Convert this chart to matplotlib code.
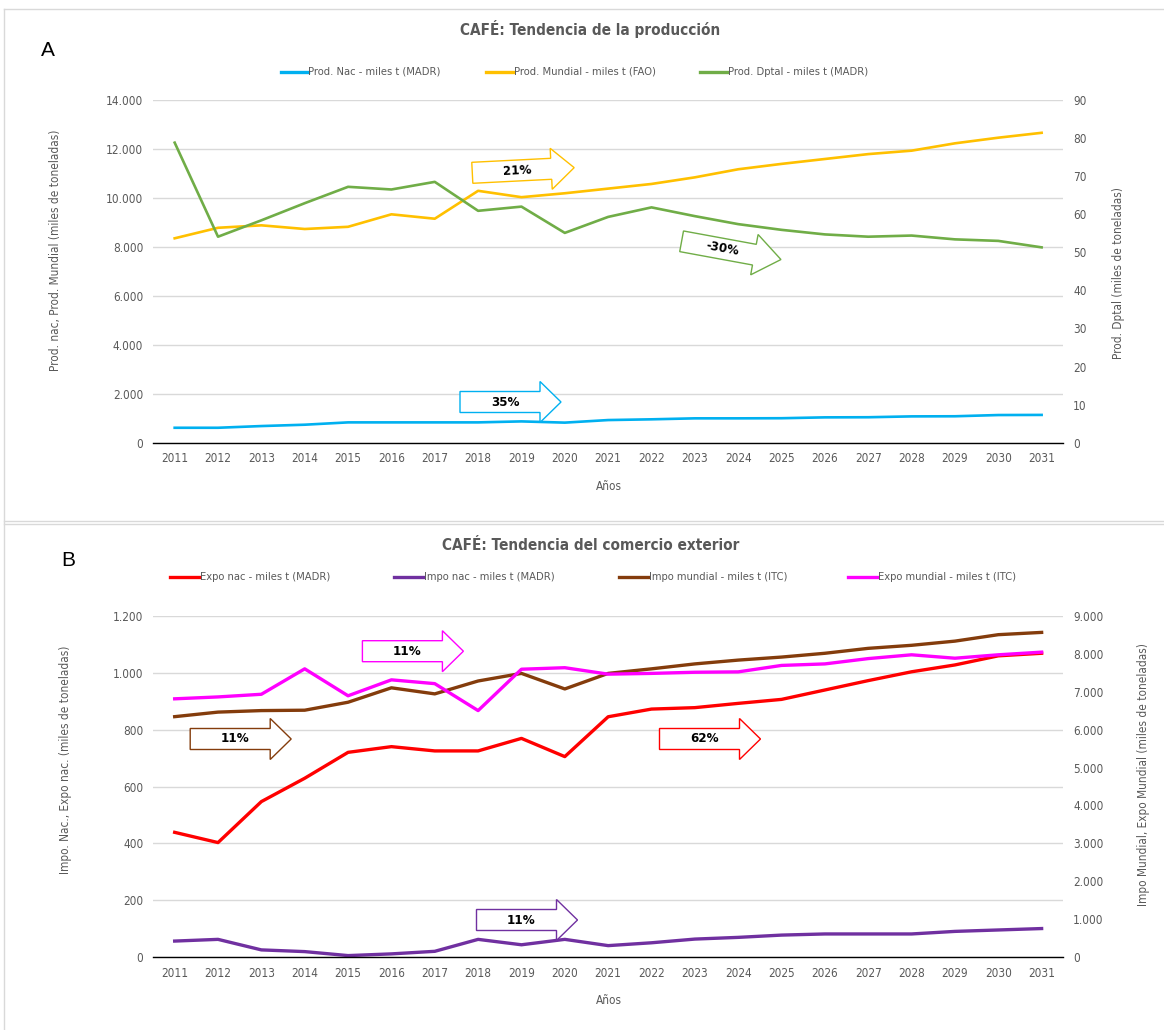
import numpy as np
import matplotlib.pyplot as plt
from matplotlib.lines import Line2D
from matplotlib.patches import Polygon
from matplotlib.ticker import FuncFormatter, MultipleLocator

plt.rcParams['font.family'] = ['DejaVu Sans']
plt.rcParams['font.stretch'] = 'condensed'

W, H = 1164, 1030
GRIS = '#595959'

anios = ['2011', '2012', '2013', '2014', '2015', '2016', '2017', '2018', '2019', '2020', '2021',
         '2022', '2023', '2024', '2025', '2026', '2027', '2028', '2029', '2030', '2031']

# A: produccion (miles de toneladas)
prod_nac = [610, 610, 680, 735, 830, 830, 830, 830, 870, 820, 925,
            955, 995, 995, 1000, 1035, 1040, 1075, 1080, 1130, 1135]
prod_mundial = [8350, 8780, 8880, 8730, 8820, 9330, 9150, 10290, 10030, 10190, 10380,
                10570, 10840, 11170, 11390, 11590, 11790, 11930, 12230, 12460, 12660]
prod_dptal = [78.8, 54.1, 58.4, 62.9, 67.2, 66.5, 68.5, 60.9, 62.0, 55.1, 59.3,
              61.8, 59.5, 57.4, 55.9, 54.7, 54.1, 54.4, 53.4, 53.0, 51.3]

# B: comercio exterior (miles de toneladas)
expo_nac = [439, 403, 547, 629, 720, 740, 725, 725, 769, 705, 845,
            872, 877, 892, 906, 939, 972, 1003, 1027, 1059, 1068]
impo_nac = [57, 63, 26, 20, 6, 12, 21, 63, 44, 63, 41,
            51, 64, 70, 78, 82, 82, 82, 91, 96, 101]
impo_mundial = [6340, 6460, 6500, 6510, 6720, 7100, 6940, 7280, 7480, 7070, 7480,
                7600, 7730, 7830, 7910, 8010, 8140, 8220, 8330, 8500, 8560]
expo_mundial = [6810, 6860, 6930, 7600, 6890, 7310, 7210, 6500, 7590, 7630, 7460,
                7480, 7510, 7520, 7690, 7730, 7870, 7970, 7880, 7970, 8040]

tendencias_a = ['21%', '-30%', '35%']
tendencias_b = ['11%', '11%', '62%', '11%']


def px(x, y):
    return x / W, 1 - y / H


def miles(v, pos):
    return f'{v:,.0f}'.replace(',', '.')


fig = plt.figure(figsize=(W / 100, H / 100), dpi=100)
x = np.arange(len(anios))


def make_axes(top, bottom, ymax_l, step_l, ymax_r, step_r, fmt_r):
    ax = fig.add_axes([153 / W, 1 - bottom / H, 910.3 / W, (bottom - top) / H])
    ax2 = ax.twinx()
    ax.set_xlim(-0.5, len(anios) - 0.5)
    ax.set_ylim(0, ymax_l)
    ax2.set_ylim(0, ymax_r)
    ax.yaxis.set_major_locator(MultipleLocator(step_l))
    ax2.yaxis.set_major_locator(MultipleLocator(step_r))
    ax.yaxis.set_major_formatter(FuncFormatter(miles))
    ax2.yaxis.set_major_formatter(FuncFormatter(fmt_r))
    ax.set_xticks(x, anios)
    ax.grid(axis='y', color='#D9D9D9', lw=1.0)
    ax.set_axisbelow(True)
    for a in (ax, ax2):
        for s in ('top', 'left', 'right'):
            a.spines[s].set_visible(False)
        a.tick_params(length=0, labelsize=8.5, labelcolor=GRIS, pad=7)
    ax2.spines['bottom'].set_visible(False)
    ax.spines['bottom'].set_color('black')
    ax.spines['bottom'].set_linewidth(1.0)
    return ax, ax2


def block_arrow(x0, yc, color, text, angle=0.0, bl=80, bh=21, hl=21, hh=41):
    pts = np.array([[0, -bh / 2], [bl, -bh / 2], [bl, -hh / 2], [bl + hl, 0],
                    [bl, hh / 2], [bl, bh / 2], [0, bh / 2]])
    t = np.deg2rad(angle)
    rot = np.array([[np.cos(t), -np.sin(t)], [np.sin(t), np.cos(t)]])
    pts = pts @ rot.T + [x0, yc]
    fig.add_artist(Polygon([px(*p) for p in pts], closed=True, transform=fig.transFigure,
                           fc='white', ec=color, lw=1.0, zorder=5))
    c = np.array([bl / 2 + 5, 0]) @ rot.T + [x0, yc]
    fig.text(*px(*c), text, ha='center', va='center', rotation=-angle,
             fontsize=9.5, fontweight='bold', color='black', zorder=6)


def legend_row(lines, xs, y, hlen):
    for ln, x0 in zip(lines, xs):
        fig.add_artist(Line2D([x0 / W, (x0 + hlen) / W], [1 - y / H] * 2,
                              color=ln.get_color(), lw=2.4, transform=fig.transFigure))
        fig.text((x0 + hlen + 1) / W, 1 - y / H, ln.get_label(), ha='left', va='center',
                 fontsize=8, color=GRIS)


def border(x0, y0, x1, y1):
    fig.add_artist(Line2D([x0 / W, x1 / W], [1 - y0 / H, 1 - y1 / H], color='#D9D9D9',
                          lw=1.0, transform=fig.transFigure))


# panel frames
border(4, 9, 4, 1030)
border(4, 9, 1164, 9)
border(4, 521, 1164, 521)
border(4, 523.5, 1164, 523.5)

# ---- A ----
axA, axA2 = make_axes(100, 442.7, 14000, 2000, 90, 10, lambda v, p: f'{v:.0f}')
lb, = axA.plot(x, prod_nac, color='#00B0F0', lw=1.9, label='Prod. Nac - miles t (MADR)')
ly, = axA.plot(x, prod_mundial, color='#FFC000', lw=1.9, label='Prod. Mundial - miles t (FAO)')
lg, = axA2.plot(x, prod_dptal, color='#70AD47', lw=1.9, label='Prod. Dptal - miles t (MADR)')

fig.text(*px(590.5, 29.3), 'CAFÉ: Tendencia de la producción', ha='center', va='center',
         fontsize=11, fontweight='bold', color=GRIS)
fig.text(*px(48, 50), 'A', ha='center', va='center', fontsize=15, family='Liberation Sans',
         stretch='normal')
legend_row([lb, ly, lg], [280.5, 486, 699.7], 71.7, 27)
fig.text(*px(55.5, 250), 'Prod. nac, Prod. Mundial (miles de toneladas)', rotation=90,
         ha='center', va='center', fontsize=8.5, color=GRIS)
fig.text(*px(1118.7, 272.7), 'Prod. Dptal (miles de toneladas)', rotation=90,
         ha='center', va='center', fontsize=8.5, color=GRIS)
fig.text(*px(609, 486), 'Años', ha='center', va='center', fontsize=8.5, color=GRIS)

block_arrow(472.3, 172.8, '#FFC000', tendencias_a[0], angle=-2.9, bl=79, hl=23)
block_arrow(681.6, 241.3, '#70AD47', tendencias_a[1], angle=10.4, bl=74, hl=27)
block_arrow(460, 402, '#00B0F0', tendencias_a[2], bl=80, hl=21)

# ---- B ----
axB, axB2 = make_axes(615.7, 957.3, 1200, 200, 9000, 1000, miles)
lr, = axB.plot(x, expo_nac, color='#FF0000', lw=2.4, label='Expo nac - miles t (MADR)')
lp, = axB.plot(x, impo_nac, color='#7030A0', lw=2.4, label='Impo nac - miles t (MADR)')
lc, = axB2.plot(x, impo_mundial, color='#843C0C', lw=2.4, label='Impo mundial - miles t (ITC)')
lm, = axB2.plot(x, expo_mundial, color='#FF00FF', lw=2.4, label='Expo mundial - miles t (ITC)')

fig.text(*px(591, 545), 'CAFÉ: Tendencia del comercio exterior', ha='center', va='center',
         fontsize=11, fontweight='bold', color=GRIS)
fig.text(*px(68.5, 561), 'B', ha='center', va='center', fontsize=15, family='Liberation Sans',
         stretch='normal')
legend_row([lr, lp, lc, lm], [170, 394, 619, 848], 577.3, 29)
fig.text(*px(65, 760), 'Impo. Nac., Expo nac. (miles de toneladas)', rotation=90,
         ha='center', va='center', fontsize=8.5, color=GRIS)
fig.text(*px(1143.6, 775), 'Impo Mundial, Expo Mundial (miles de toneladas)', rotation=90,
         ha='center', va='center', fontsize=8.5, color=GRIS)
fig.text(*px(609, 1000.7), 'Años', ha='center', va='center', fontsize=8.5, color=GRIS)

block_arrow(362.4, 651.2, '#FF00FF', tendencias_b[0])
block_arrow(190.2, 739, '#843C0C', tendencias_b[1])
block_arrow(659.5, 739, '#FF0000', tendencias_b[2])
block_arrow(476.5, 920, '#7030A0', tendencias_b[3])

fig.savefig('out.png', dpi=100, facecolor='white')
